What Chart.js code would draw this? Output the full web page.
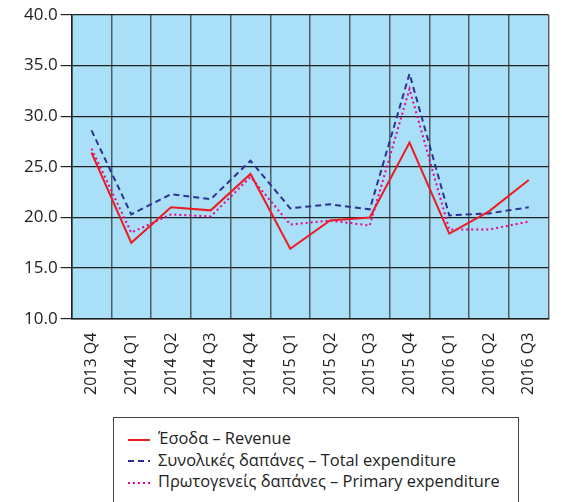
<!DOCTYPE html>
<html>
<head>
<meta charset="utf-8">
<script src="https://cdn.jsdelivr.net/npm/chart.js"></script>
<style>
  body { margin: 0; background: #fff; }
  #wrap { position: relative; width: 562px; height: 502px; overflow: hidden; }
  #myChart { position: absolute; left: 0; top: 0; }
  #legend {
    position: absolute; left: 113px; top: 417px; width: 406px; height: 100px;
    border: 1px solid #444; font: 16.4px "Open Sans", sans-serif; color: #222;
    padding-top: 9px; box-sizing: border-box;
  }
  #legend div { height: 21.5px; line-height: 21.5px; padding-left: 14px; white-space: nowrap; }
  #legend svg { vertical-align: middle; margin-right: 8px; }
</style>
</head>
<body>
<div id="wrap">
  <canvas id="myChart" width="562" height="416"></canvas>
  <div id="legend"></div>
</div>
<script>
var quarters = ["2013 Q4", "2014 Q1", "2014 Q2", "2014 Q3", "2014 Q4", "2015 Q1",
                "2015 Q2", "2015 Q3", "2015 Q4", "2016 Q1", "2016 Q2", "2016 Q3"];
var revenue = [26.4, 17.5, 21.0, 20.7, 24.3, 16.9, 19.7, 20.0, 27.4, 18.4, 20.6, 23.7];
var totalExp = [28.6, 20.3, 22.3, 21.8, 25.6, 20.9, 21.3, 20.8, 34.2, 20.2, 20.4, 21.0];
var primaryExp = [26.8, 18.5, 20.3, 20.1, 24.0, 19.3, 19.7, 19.2, 32.7, 18.8, 18.8, 19.6];
var seriesNames = ["Έσοδα – Revenue", "Συνολικές δαπάνες – Total expenditure", "Πρωτογενείς δαπάνες – Primary expenditure"];

// light blue plot background
var plotBg = {
  id: "plotBg",
  beforeDraw: function(chart) {
    var a = chart.chartArea, ctx = chart.ctx;
    ctx.save();
    ctx.fillStyle = "#aadff8";
    ctx.fillRect(a.left, a.top, a.right - a.left, a.bottom - a.top);
    ctx.restore();
  }
};

var chart = new Chart("myChart", {
  type: "line",
  data: {
    labels: quarters,
    datasets: [{
      label: seriesNames[0],
      data: revenue,
      borderColor: "#ed1c24",
      borderWidth: 2
    }, {
      label: seriesNames[1],
      data: totalExp,
      borderColor: "#2e3192",
      borderWidth: 2,
      borderDash: [6, 4]
    }, {
      label: seriesNames[2],
      data: primaryExp,
      borderColor: "#ec008c",
      borderWidth: 2,
      borderDash: [2, 3]
    }]
  },
  options: {
    responsive: false,
    animation: false,
    elements: { point: { radius: 0 }, line: { tension: 0 } },
    layout: { padding: { top: 15, right: 1, left: 21, bottom: 7 } },
    plugins: { legend: { display: false }, tooltip: { enabled: false } },
    scales: {
      x: {
        offset: true,
        grid: { offset: true, color: "rgba(50,50,50,0.75)", lineWidth: 1.5, drawTicks: false },
        border: { color: "#222", width: 1.5 },
        ticks: {
          minRotation: 90, maxRotation: 90, padding: 14, color: "#222",
          font: { family: "Open Sans", size: 16 }
        }
      },
      y: {
        min: 10, max: 40,
        grid: { color: "#222", lineWidth: 1.2, tickLength: 11, tickColor: "#222" },
        border: { color: "#222", width: 1.5 },
        ticks: {
          stepSize: 5, padding: 3, color: "#222",
          font: { family: "Open Sans", size: 17 },
          callback: function(v) { return v.toFixed(1); }
        }
      }
    }
  },
  plugins: [plotBg]
});

// legend built from the datasets
var leg = document.getElementById("legend");
chart.data.datasets.forEach(function(ds) {
  var row = document.createElement("div");
  var dash = ds.borderDash ? ds.borderDash.join(",") : "none";
  row.innerHTML = '<svg width="22" height="4"><line x1="0" y1="2" x2="22" y2="2" stroke="' + ds.borderColor +
    '" stroke-width="2" stroke-dasharray="' + dash + '"/></svg>';
  row.appendChild(document.createTextNode(ds.label));
  leg.appendChild(row);
});
</script>
</body>
</html>
